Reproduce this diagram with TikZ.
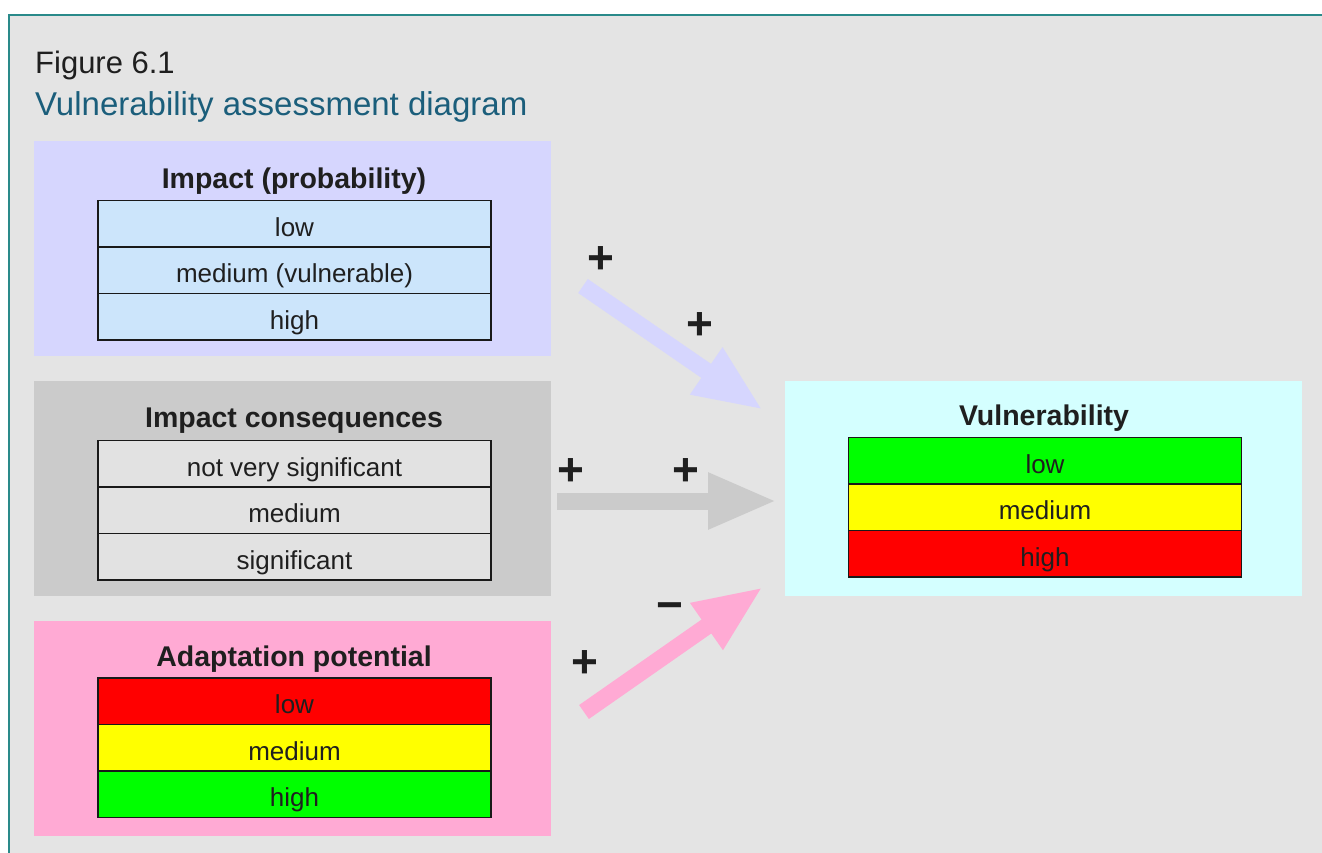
\documentclass[tikz,border=0pt]{standalone}
\usepackage{fontspec}
\setmainfont{Liberation Sans}
\usetikzlibrary{positioning, arrows.meta}
\definecolor{vTeal}{HTML}{2A8A8A}
\definecolor{vTitle}{HTML}{1B5E7B}
\definecolor{vBg}{HTML}{E4E4E4}
\definecolor{vLav}{HTML}{D6D6FE}
\definecolor{vBlue}{HTML}{CCE5FB}
\definecolor{vGray}{HTML}{CBCBCB}
\definecolor{vRow}{HTML}{E2E2E2}
\definecolor{vPink}{HTML}{FFAAD4}
\definecolor{vCyan}{HTML}{D4FFFF}
\definecolor{vRed}{HTML}{FF0000}
\definecolor{vYellow}{HTML}{FFFF00}
\definecolor{vGreen}{HTML}{00FF00}

\begin{document}
\begin{tikzpicture}[
  x=1pt, y=-1pt,
  every node/.style={font=\fontsize{26}{30}\selectfont, text=black!88},
  panel/.style={anchor=north west, inner sep=0pt, minimum width=517pt, minimum height=215pt},
  head/.style={anchor=base, font=\fontsize{28.5}{32}\selectfont\bfseries},
  row/.style={draw=black!90, line width=1.5pt, inner sep=0pt, outer sep=0pt,
              minimum width=393pt, minimum height=46.5pt,
              text height=29pt, text depth=4pt},
  sign/.style={font=\fontsize{46}{46}\selectfont\bfseries, inner sep=0pt},
  flow/.style={line width=17pt, -{Triangle[length=69pt, width=52pt]}},
]
  \useasboundingbox (0,0) rectangle (1322,852);
  \clip (0,0) rectangle (1322,852);
  \draw[vTeal, line width=2.5pt, fill=vBg] (9,15) rectangle (1345,875);

  % Heading
  \node[anchor=base west, inner sep=0pt, font=\fontsize{31}{35}\selectfont] (fig) at (35,73) {Figure 6.1};
  \node[anchor=base west, inner sep=0pt, font=\fontsize{33}{37}\selectfont, text=vTitle] (title) at (35,115)
    {Vulnerability assessment diagram};

  % Impact (probability)
  \node[panel, fill=vLav] (prob) at (34,141) {};
  \node[head] (probT) at (294,188) {Impact (probability)};
  \node[row, fill=vBlue] (prob1) at (294.5,223.5) {low};
  \node[row, fill=vBlue, below=0pt of prob1] (prob2) {medium (vulnerable)};
  \node[row, fill=vBlue, below=0pt of prob2] (prob3) {high};

  % Impact consequences
  \node[panel, fill=vGray] (cons) at (34,381) {};
  \node[head] (consT) at (294,427) {Impact consequences};
  \node[row, fill=vRow] (cons1) at (294.5,463.5) {not very significant};
  \node[row, fill=vRow, below=0pt of cons1] (cons2) {medium};
  \node[row, fill=vRow, below=0pt of cons2] (cons3) {significant};

  % Adaptation potential
  \node[panel, fill=vPink] (adapt) at (34,621) {};
  \node[head] (adaptT) at (294,666) {Adaptation potential};
  \node[row, fill=vRed] (adapt1) at (294.5,701) {low};
  \node[row, fill=vYellow, below=0pt of adapt1] (adapt2) {medium};
  \node[row, fill=vGreen, below=0pt of adapt2] (adapt3) {high};

  % Vulnerability
  \node[panel, fill=vCyan] (vuln) at (785,381) {};
  \node[head] (vulnT) at (1044,425) {Vulnerability};
  \node[row, fill=vGreen] (vuln1) at (1045,460.5) {low};
  \node[row, fill=vYellow, below=0pt of vuln1] (vuln2) {medium};
  \node[row, fill=vRed, below=0pt of vuln2] (vuln3) {high};

  % Arrows
  \coordinate (probA) at (583,286);
  \coordinate (consA) at (557,501);
  \coordinate (adaptA) at (584,712);
  \coordinate (vulnP) at (763,410);
  \coordinate (vulnC) at (777,501);
  \coordinate (vulnA) at (763,587);
  \draw[flow, vLav] (probA) -- (vulnP);
  \draw[flow, vGray] (consA) -- (vulnC);
  \draw[flow, vPink] (adaptA) -- (vulnA);

  % Signs
  \node[sign] (s1) at (601,260) {+};
  \node[sign] (s2) at (700,326) {+};
  \node[sign] (s3) at (571,472) {+};
  \node[sign] (s4) at (686,472) {+};
  \node[sign] (s5) at (670,612) {−};
  \node[sign] (s6) at (585,664) {+};
\end{tikzpicture}
\end{document}
